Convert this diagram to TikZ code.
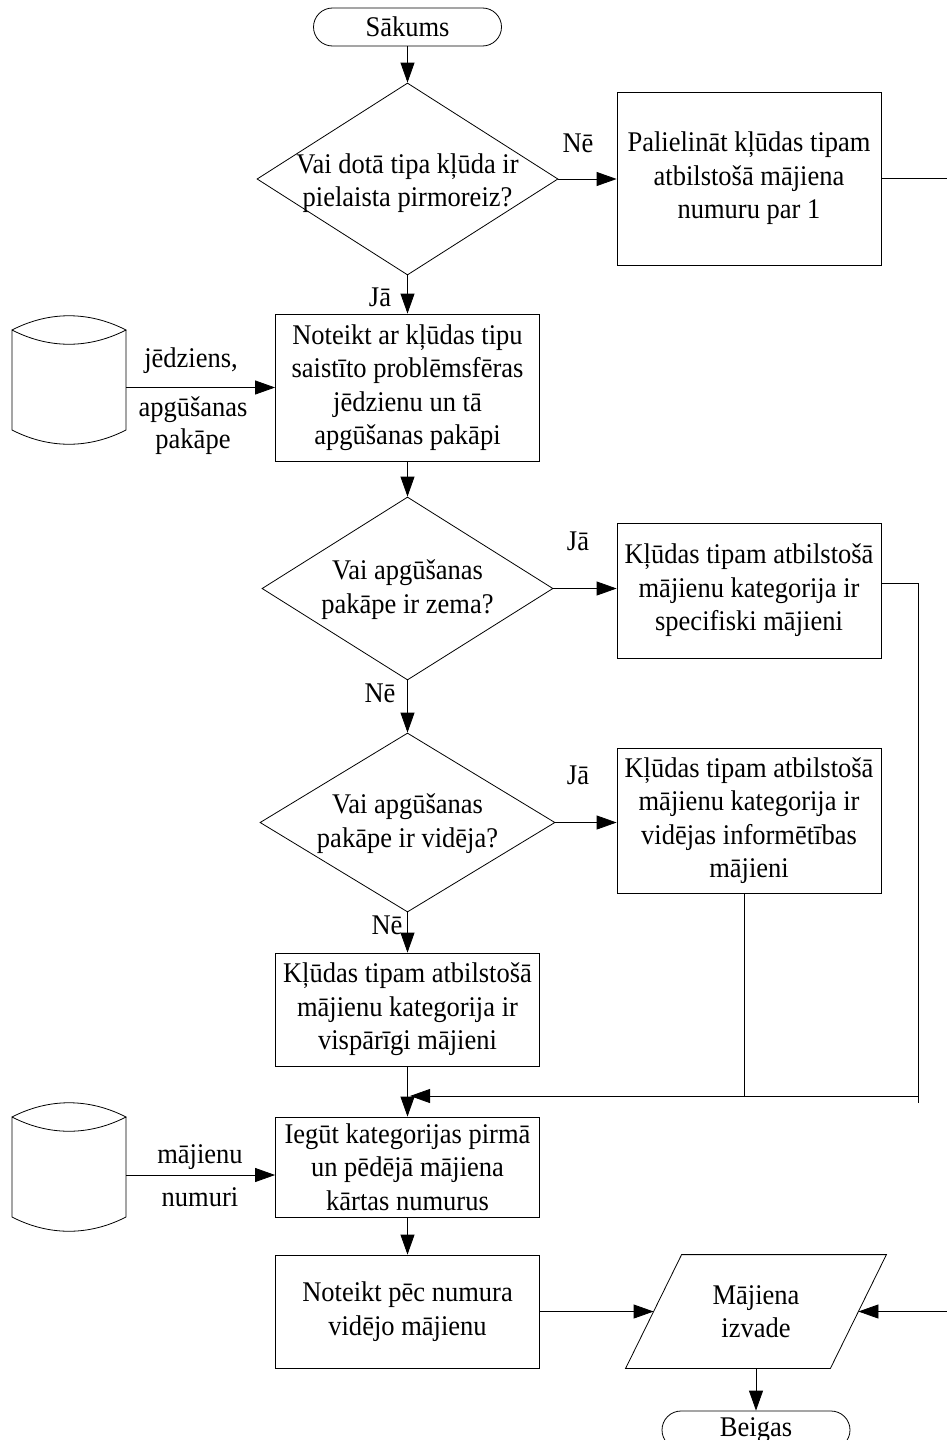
\documentclass[tikz,border=0pt]{standalone}
\usepackage{fontspec}
\setmainfont{Liberation Serif}[FakeStretch=0.93]
\usetikzlibrary{arrows.meta,shapes.geometric,calc}

% drum-shaped data store drawn around an invisible node
\newcommand\drawstore[1]{%
  \draw[shift={(#1.center)}]
    (-57,-50) .. controls (-20,-69) and (20,-69) .. (57,-50)
              .. controls (20,-31) and (-20,-31) .. (-57,-50)
    -- (-57,50) .. controls (-20,69) and (20,69) .. (57,50)
    -- (57,-50);}

\begin{document}
\begin{tikzpicture}[x=1pt,y=-1pt,line width=0.8pt,
  txt/.style={font=\fontsize{28.5pt}{33.5pt}\selectfont, align=center, inner sep=0pt},
  proc/.style={txt, draw, rectangle, minimum width=264pt},
  term/.style={txt, draw, rounded corners=19pt, minimum width=188pt, minimum height=38pt},
  decide/.style={draw, diamond, inner sep=0pt},
  store/.style={inner sep=0pt, minimum width=114pt, minimum height=128pt},
  arr/.style={-{Triangle[length=20pt,width=14pt]}},
]
\useasboundingbox (0,0) rectangle (946,1440);

% main column
\node[term] (start) at (407.5,27) {Sākums};
\node[decide, minimum width=301pt, minimum height=192pt] (d1) at (407.5,179) {};
\node[txt] (d1t) at ([yshift=-4pt]d1.center) {Vai dotā tipa kļūda ir\\pielaista pirmoreiz?};
\node[proc, minimum height=173pt] (pal) at (749,178.5) {Palielināt kļūdas tipam\\atbilstošā mājiena\\numuru par 1};
\node[proc, minimum height=147pt] (def) at (407.5,387.5) {Noteikt ar kļūdas tipu\\saistīto problēmsfēras\\jēdzienu un tā\\apgūšanas pakāpi};
\node[decide, minimum width=291pt, minimum height=183pt] (d2) at (407.5,588.5) {};
\node[txt] (d2t) at ([yshift=-1pt]d2.center) {Vai apgūšanas\\pakāpe ir zema?};
\node[proc, minimum height=135pt] (spec) at (749,590.5) {Kļūdas tipam atbilstošā\\mājienu kategorija ir\\specifiski mājieni};
\node[decide, minimum width=295pt, minimum height=179pt] (d3) at (407.5,822.5) {};
\node[txt] (d3t) at ([yshift=-1pt]d3.center) {Vai apgūšanas\\pakāpe ir vidēja?};
\node[proc, minimum height=145pt] (vid) at (749,820.5) {Kļūdas tipam atbilstošā\\mājienu kategorija ir\\vidējas informētības\\mājieni};
\node[proc, minimum height=113pt] (visp) at (407.5,1009.5) {Kļūdas tipam atbilstošā\\mājienu kategorija ir\\vispārīgi mājieni};
\node[proc, minimum height=100pt] (ieg) at (407.5,1167) {Iegūt kategorijas pirmā\\un pēdējā mājiena\\kārtas numurus};
\node[proc, minimum height=113pt] (npec) at (407.5,1311.5) {Noteikt pēc numura\\vidējo mājienu};
\node[txt, minimum width=204pt, minimum height=113pt] (out) at (756,1311.5) {Mājiena\\izvade};
\node[term] (end) at (756,1430) {Beigas};

% output parallelogram
\draw ([xshift=28pt]out.north west) -- ([xshift=28pt]out.north east)
   -- ([xshift=-28pt]out.south east) -- ([xshift=-28pt]out.south west) -- cycle;

% data stores
\node[store] (db1) at (69,380) {};
\drawstore{db1}
\node[store] (db2) at (69,1167) {};
\drawstore{db2}

% branch labels
\node[txt] (n1) at (578,143) {Nē};
\node[txt] (y1) at (380,297) {Jā};
\node[txt] (y2) at (578,541) {Jā};
\node[txt] (n2) at (380,693) {Nē};
\node[txt] (y3) at (578,775) {Jā};
\node[txt] (n3) at (387,925) {Nē};
\node[txt] (s1a) at (191,361) {jēdziens,};
\node[txt] (s1b) at (193,410) {apgūšanas};
\node[txt] (s1c) at (193,442) {pakāpe};
\node[txt] (s2a) at (200,1157) {mājienu};
\node[txt] (s2b) at (200,1197) {numuri};

% helper points for routed lines
\coordinate (edge) at (962,700);
\coordinate (rbot) at (918,1103);
\coordinate (join) at (918,1096);
\coordinate (hit) at (410,1096);

% connectors
\draw[arr] (start.south) -- (d1.north);
\draw[arr] (d1.east) -- (d1.east -| pal.west);
\draw[arr] (pal.east) -| (edge) |- (out.east);
\draw[arr] (d1.south) -- (def.north);
\draw[arr] (db1.east |- def.west) -- (def.west);
\draw[arr] (def.south) -- (d2.north);
\draw[arr] (d2.east) -- (d2.east -| spec.west);
\draw[arr] (d2.south) -- (d3.north);
\draw[arr] (d3.east) -- (d3.east -| vid.west);
\draw[arr] (d3.south) -- (visp.north);
\draw[arr] (visp.south) -- (ieg.north);
\draw ([yshift=7.5pt]spec.east) -| (rbot);
\draw ([xshift=-5pt]vid.south) -- ([xshift=-5pt]vid.south |- join);
\draw[arr] (join) -- (hit);
\draw[arr] ([yshift=-8pt]db2.east) -- ([yshift=-8pt]db2.east -| ieg.west);
\draw[arr] (ieg.south) -- (npec.north);
\draw[arr] (npec.east |- out.west) -- (out.west);
\draw[arr] (out.south) -- (end.north);
\end{tikzpicture}
\end{document}
